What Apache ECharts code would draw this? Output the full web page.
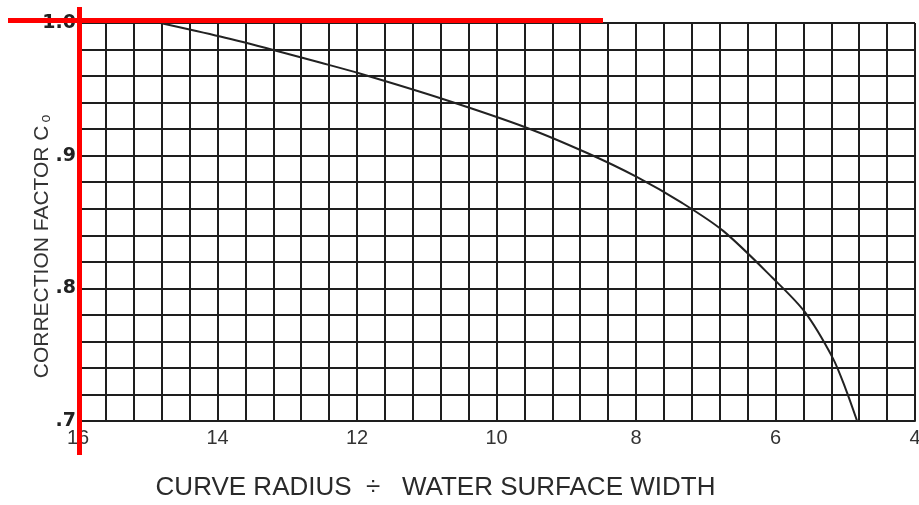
<!DOCTYPE html>
<html>
<head>
<meta charset="utf-8">
<script src="https://cdn.jsdelivr.net/npm/echarts@6/dist/echarts.min.js"></script>
<style>
  html, body { margin: 0; padding: 0; background: #fff; }
  #main { width: 919px; height: 505px; }
</style>
</head>
<body>
<div id="main"></div>
<script>
// curve: ratio (radius / width) vs correction factor
const ratio = [14.82, 13.96, 13.2, 12.53, 11.96, 10.77, 9.56, 8.7, 7.99, 7.34, 6.75, 6.04, 5.58, 5.18, 5.0, 4.83];
const factor = [1.0, 0.9898, 0.9797, 0.9702, 0.9619, 0.9427, 0.9209, 0.902, 0.884, 0.8644, 0.8433, 0.8078, 0.7822, 0.7476, 0.725, 0.700];

const xTicks = [16, 14, 12, 10, 8, 6, 4];
const yTicks = { 1: '1.0', 0.9: '.9', 0.8: '.8', 0.7: '.7' };

const inkColor = '#1e1e1e';
const gridStyle = { color: inkColor, width: 2 };

const myChart = echarts.init(document.getElementById('main'));
window.onresize = myChart.resize;

myChart.setOption({
    backgroundColor: '#ffffff',
    animation: false,
    grid: { left: 78, top: 23, width: 837, height: 398, containLabel: false, outerBoundsMode: 'none' },
    xAxis: {
        type: 'value',
        inverse: true,
        min: 4,
        max: 16,
        interval: 2,
        name: 'CURVE RADIUS  \u00f7   WATER SURFACE WIDTH',
        nameLocation: 'middle',
        nameGap: 54,
        nameMoveOverlap: false,
        nameTextStyle: {
            fontFamily: 'Liberation Sans',
            fontSize: 26,
            color: '#2a2a2a',
            padding: [0, 122, 0, 0]
        },
        axisLine: { show: true, lineStyle: gridStyle },
        axisTick: { show: false },
        minorTick: { show: false, splitNumber: 5 },
        splitLine: { show: true, lineStyle: gridStyle },
        minorSplitLine: { show: true, lineStyle: gridStyle },
        axisLabel: {
            margin: 7,
            fontFamily: 'Liberation Sans',
            fontSize: 20,
            color: '#333',
            formatter: v => (xTicks.indexOf(Math.round(v)) >= 0 ? String(Math.round(v)) : '')
        }
    },
    yAxis: {
        type: 'value',
        min: 0.7,
        max: 1.0,
        interval: 0.1,
        name: 'CORRECTION FACTOR C{sub|o}',
        nameLocation: 'middle',
        nameGap: 25,
        nameRotate: 90,
        nameMoveOverlap: false,
        nameTextStyle: {
            fontFamily: 'Liberation Sans',
            fontSize: 21,
            color: '#333',
            padding: [0, 49, 0, 0],
            rich: {
                sub: { fontFamily: 'Liberation Sans', fontSize: 14, color: '#333', padding: [8, 0, 0, 3] }
            }
        },
        axisLine: { show: true, lineStyle: gridStyle },
        axisTick: { show: false },
        minorTick: { show: false, splitNumber: 5 },
        splitLine: { show: true, lineStyle: gridStyle },
        minorSplitLine: { show: true, lineStyle: gridStyle },
        axisLabel: {
            margin: 2,
            fontFamily: 'DejaVu Sans',
            fontWeight: 'bold',
            fontSize: 19,
            color: '#222',
            formatter: v => yTicks[Math.round(v * 10) / 10] || ''
        }
    },
    series: [{
        type: 'line',
        data: ratio.map((r, i) => [r, factor[i]]),
        smooth: 0.3,
        showSymbol: false,
        lineStyle: { color: '#222', width: 2 },
        z: 5
    }],
    graphic: [
        // red markup strokes drawn over the scan
        { type: 'line', z: 100, shape: { x1: 8, y1: 20.5, x2: 603, y2: 20.5 },
          style: { stroke: '#ff0000', lineWidth: 5 } },
        { type: 'line', z: 100, shape: { x1: 79.5, y1: 7, x2: 79.5, y2: 455 },
          style: { stroke: '#ff0000', lineWidth: 5 } }
    ]
});
</script>
</body>
</html>
